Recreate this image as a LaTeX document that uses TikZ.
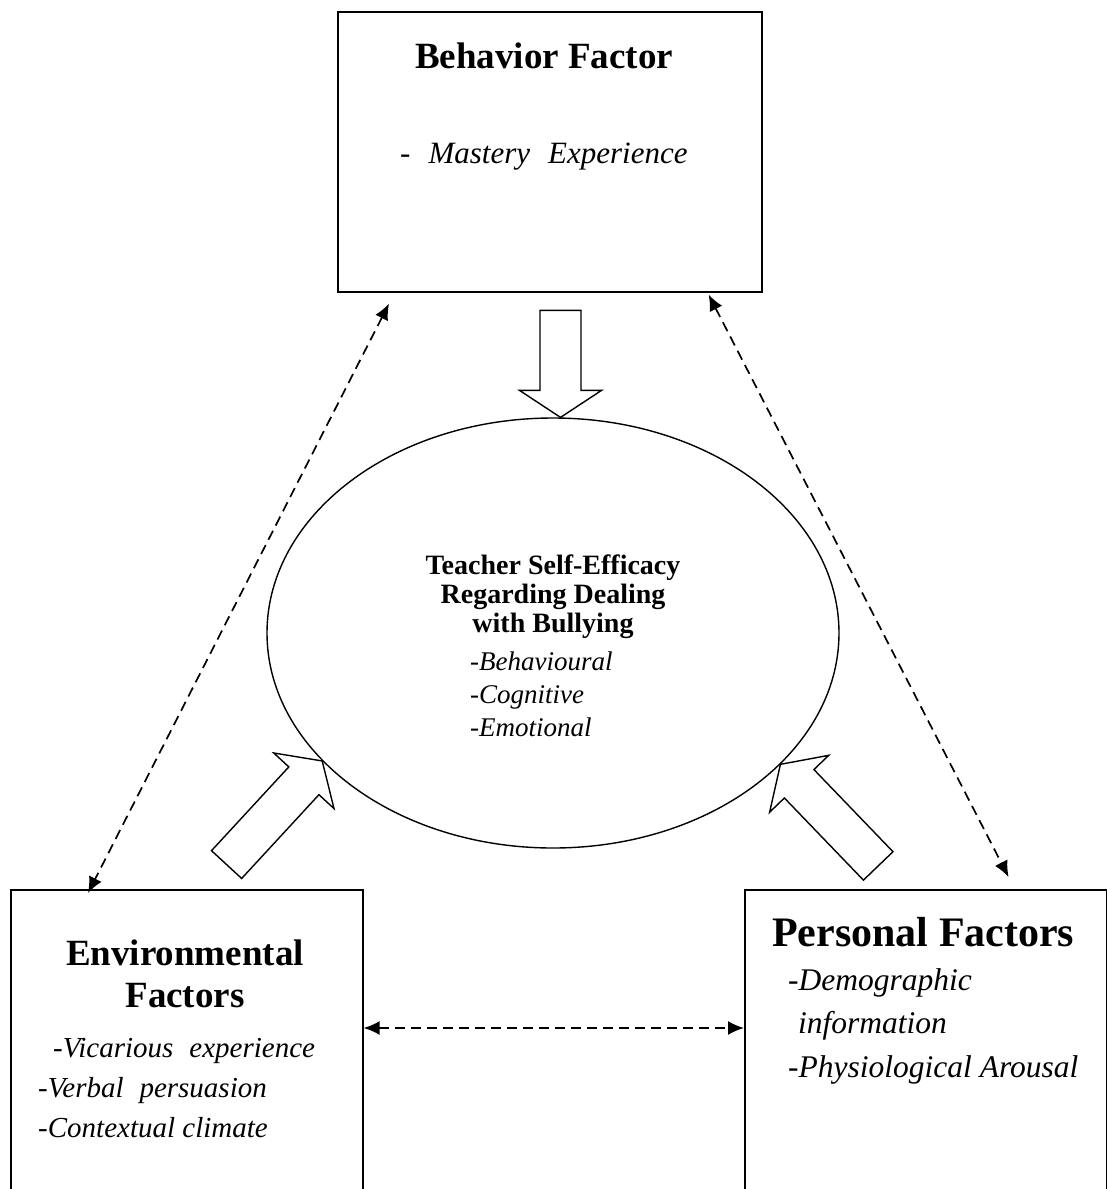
\documentclass[tikz,border=0pt]{standalone}
\usepackage{fontspec}
\setmainfont{Liberation Serif}
\usetikzlibrary{shapes.geometric, arrows.meta}

% hollow block arrow: tip at #1, turned by #2, total length #3
\newcommand{\blockarrow}[3]{%
  \draw[hollow, shift={#1}, rotate=#2] (0,0) -- (-27,41) -- (-27,20.5) -- (-#3,20.5)
    -- (-#3,-20.5) -- (-27,-20.5) -- (-27,-41) -- cycle;}

\begin{document}
\begin{tikzpicture}[x=1pt, y=-1pt,
    factor/.style={draw, line width=1.6pt, anchor=north west, inner sep=0pt},
    head/.style={inner sep=0pt, font=\bfseries},
    item/.style={inner sep=0pt, font=\itshape, anchor=base west},
    hollow/.style={line width=1.4pt, fill=white},
    link/.style={line width=1.7pt, dash pattern=on 10pt off 6pt,
        {Latex[length=16pt,width=14pt]}-{Latex[length=16pt,width=14pt]}}]
    \useasboundingbox (0,0) rectangle (1107,1189);
    \clip (0,0) rectangle (1107,1189);

    % boxes and the ellipse
    \node[factor, minimum width=424pt, minimum height=280pt] (beh) at (337,11) {};
    \node[factor, minimum width=352pt, minimum height=400pt] (env) at (10,889) {};
    \node[factor, minimum width=362pt, minimum height=400pt] (per) at (744,889) {};
    \node[draw, ellipse, line width=1.4pt, minimum width=572pt, minimum height=430pt,
        inner sep=0pt] (ell) at (553,633) {};

    % behavior
    \node[head, anchor=base] (behtitle) at (544,68)
        {\fontsize{37}{42}\selectfont Behavior Factor};
    \node[item] (beh1) at (400,163)
        {\fontsize{31}{36}\selectfont -\hspace{18pt}Mastery\hspace{18pt}Experience};

    % self-efficacy
    \node[head, anchor=base] (tse1) at (553,574)
        {\fontsize{28}{32}\selectfont Teacher Self-Efficacy};
    \node[head, anchor=base] (tse2) at (553,603)
        {\fontsize{28}{32}\selectfont Regarding Dealing};
    \node[head, anchor=base] (tse3) at (553,632)
        {\fontsize{28}{32}\selectfont with Bullying};
    \node[item] (tse4) at (470,670) {\fontsize{27}{32}\selectfont -Behavioural};
    \node[item] (tse5) at (470,703) {\fontsize{27}{32}\selectfont -Cognitive};
    \node[item] (tse6) at (470,736) {\fontsize{27}{32}\selectfont -Emotional};

    % environmental
    \node[head, anchor=base] (envtitle1) at (185,965)
        {\fontsize{37}{42}\selectfont Environmental};
    \node[head, anchor=base] (envtitle2) at (185,1007)
        {\fontsize{37}{42}\selectfont Factors};
    \node[item] (env1) at (53,1057)
        {\fontsize{29}{34}\selectfont -Vicarious\hspace{16pt}experience};
    \node[item] (env2) at (38,1097)
        {\fontsize{29}{34}\selectfont -Verbal\hspace{16pt}persuasion};
    \node[item] (env3) at (38,1137)
        {\fontsize{29}{34}\selectfont -Contextual climate};

    % personal
    \node[head, anchor=base west] (pertitle) at (772,946)
        {\fontsize{42}{48}\selectfont Personal Factors};
    \node[item] (per1) at (788,990) {\fontsize{31.5}{36}\selectfont -Demographic};
    \node[item] (per2) at (798,1033) {\fontsize{31.5}{36}\selectfont information};
    \node[item] (per3) at (788,1077)
        {\fontsize{31.5}{36}\selectfont -Physiological Arousal};

    % block arrows
    \blockarrow{(ell.88)}{-90}{107}
    \blockarrow{(ell.209.5)}{47.3}{141}
    \blockarrow{(ell.-30.9)}{133.9}{141}

    % dashed links
    \draw[link] ([shift={(52,11)}]beh.south west) -- ([shift={(78,4)}]env.north west);
    \draw[link] ([shift={(-54,2)}]beh.south east) -- ([shift={(-99,-12)}]per.north east);
    \draw[link] ([yshift=-139pt]env.north east) -- ([yshift=-139pt]per.north west);
\end{tikzpicture}
\end{document}
